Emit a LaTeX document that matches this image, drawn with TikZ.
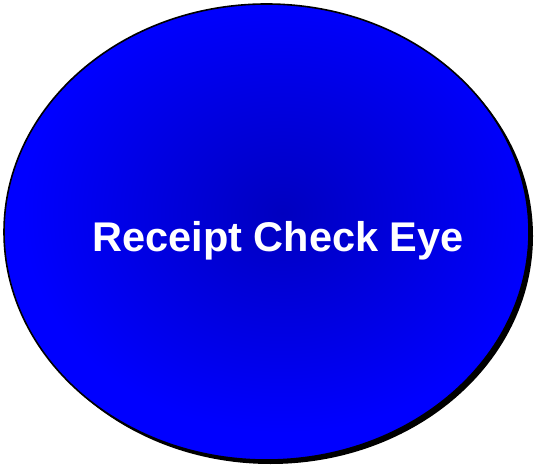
\documentclass[tikz,border=0pt]{standalone}
\usepackage{fontspec}
\setmainfont{Liberation Sans}
\definecolor{eyecore}{RGB}{0,0,192}
\definecolor{eyerim}{RGB}{0,0,255}
\begin{document}
\begin{tikzpicture}[x=1pt,y=1pt,
  eyetext/.style={text=white,font=\bfseries\fontsize{41.5}{48}\selectfont,inner sep=0pt}]
\useasboundingbox (0,0) rectangle (534,465);
% shadow
\fill[black] (270.5,229) ellipse [x radius=262.5, y radius=228];
% shaded body
\begin{scope}
  \clip (266.5,233) ellipse [x radius=262.5, y radius=228];
  \fill[eyerim] (0,0) rectangle (534,465);
  \shade[inner color=eyecore, outer color=eyerim] (282,252) ellipse [x radius=260, y radius=220];
\end{scope}
\draw[black,line width=1.6pt] (266.5,233) ellipse [x radius=262.5, y radius=228];
\node[eyetext,anchor=base] (label) at (278,213) {Receipt Check Eye};
\end{tikzpicture}
\end{document}
